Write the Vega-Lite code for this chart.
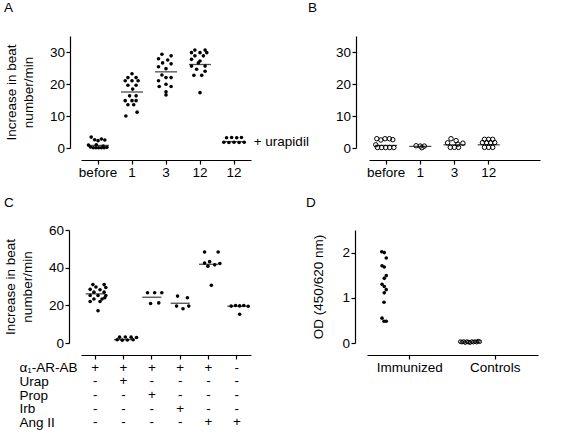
{
  "$schema": "https://vega.github.io/schema/vega-lite/v6.json",
  "padding": {"left": 3, "top": 0, "right": 5, "bottom": 5},
  "config": {
    "view": {"stroke": null},
    "font": "Liberation Sans",
    "axis": {"grid": false, "domainColor": "black", "tickColor": "black", "labelColor": "black", "titleColor": "black",
      "labelFontSize": 13.5, "titleFontSize": 13.5, "titleFontWeight": "normal", "tickSize": 4, "labelPadding": 1.5,
      "domainWidth": 1.2, "tickWidth": 1.2, "labelFont": "Liberation Sans", "titleFont": "Liberation Sans",
      "labelOverlap": false, "labelFlush": false},
    "axisX": {"labelAngle": 0, "offset": 12, "title": null},
    "axisY": {"offset": 11, "titleLineHeight": 17},
    "title": {"fontSize": 13.5, "fontWeight": "normal", "anchor": "start", "frame": "group", "font": "Liberation Sans", "color": "black", "baseline": "alphabetic"}
  },
  "datasets": {
    "a": [
      {"g":"before","j":-0.2,"v":3.4},{"g":"before","j":-0.1,"v":2.6},{"g":"before","j":0.0,"v":2.3},{"g":"before","j":0.1,"v":2.8},{"g":"before","j":0.2,"v":2.5},
      {"g":"before","j":-0.28,"v":0.9},{"g":"before","j":-0.22,"v":0.3},{"g":"before","j":-0.14,"v":0.1},{"g":"before","j":-0.06,"v":0.1},{"g":"before","j":0.02,"v":0.1},{"g":"before","j":0.1,"v":0.1},{"g":"before","j":0.18,"v":0.1},{"g":"before","j":0.26,"v":0.2},{"g":"before","j":-0.05,"v":1.0},{"g":"before","j":0.15,"v":0.6},
      {"g":"1","j":0.0,"v":23.2},{"g":"1","j":-0.12,"v":22.0},{"g":"1","j":0.12,"v":22.0},{"g":"1","j":-0.2,"v":21.0},{"g":"1","j":0.0,"v":21.0},{"g":"1","j":0.18,"v":21.0},{"g":"1","j":-0.12,"v":19.6},{"g":"1","j":0.12,"v":19.6},{"g":"1","j":0.02,"v":18.4},{"g":"1","j":-0.07,"v":16.3},{"g":"1","j":0.12,"v":16.3},{"g":"1","j":-0.2,"v":14.8},{"g":"1","j":0.0,"v":14.8},{"g":"1","j":0.12,"v":14.8},{"g":"1","j":-0.12,"v":13.5},{"g":"1","j":0.05,"v":13.5},{"g":"1","j":0.15,"v":11.2},{"g":"1","j":-0.18,"v":10.0},
      {"g":"3","j":-0.12,"v":29.3},{"g":"3","j":0.15,"v":28.8},{"g":"3","j":-0.22,"v":27.9},{"g":"3","j":0.05,"v":27.5},{"g":"3","j":-0.1,"v":26.6},{"g":"3","j":0.15,"v":26.3},{"g":"3","j":-0.22,"v":25.4},{"g":"3","j":0.0,"v":24.8},{"g":"3","j":-0.12,"v":22.8},{"g":"3","j":0.0,"v":22.0},{"g":"3","j":0.15,"v":22.0},{"g":"3","j":-0.22,"v":21.0},{"g":"3","j":0.0,"v":19.9},{"g":"3","j":-0.2,"v":19.2},{"g":"3","j":0.15,"v":19.2},{"g":"3","j":0.0,"v":17.6},{"g":"3","j":0.0,"v":16.6},
      {"g":"12","j":-0.15,"v":30.6},{"g":"12","j":0.15,"v":30.6},{"g":"12","j":-0.25,"v":29.8},{"g":"12","j":0.0,"v":29.8},{"g":"12","j":0.2,"v":29.8},{"g":"12","j":-0.15,"v":28.8},{"g":"12","j":0.1,"v":28.8},{"g":"12","j":-0.25,"v":27.7},{"g":"12","j":0.0,"v":27.2},{"g":"12","j":-0.05,"v":26.6},{"g":"12","j":0.15,"v":25.6},{"g":"12","j":-0.25,"v":25.6},{"g":"12","j":-0.1,"v":24.6},{"g":"12","j":0.15,"v":24.0},{"g":"12","j":-0.18,"v":22.7},{"g":"12","j":0.05,"v":22.7},{"g":"12","j":0.0,"v":17.3},
      {"g":"12u","j":-0.22,"v":3.2},{"g":"12u","j":-0.07,"v":3.3},{"g":"12u","j":0.08,"v":3.2},{"g":"12u","j":0.22,"v":3.3},{"g":"12u","j":-0.3,"v":1.8},{"g":"12u","j":-0.15,"v":1.7},{"g":"12u","j":0.0,"v":1.8},{"g":"12u","j":0.15,"v":1.7},{"g":"12u","j":0.3,"v":1.8}
    ],
    "a_med": [{"g":"before","v":0.8},{"g":"1","v":17.5},{"g":"3","v":23.8},{"g":"12","v":26.1},{"g":"12u","v":2.0}],
    "a_note": [{"g":"12u","j":0.58,"v":1.9,"label":"+ urapidil"}],
    "b": [
      {"g":"before","j":-0.27,"v":2.9},{"g":"before","j":-0.15,"v":2.5},{"g":"before","j":-0.03,"v":2.9},{"g":"before","j":0.1,"v":2.9},{"g":"before","j":0.2,"v":2.6},{"g":"before","j":-0.3,"v":1.0},
      {"g":"before","j":-0.25,"v":0.15},{"g":"before","j":-0.13,"v":0.15},{"g":"before","j":-0.01,"v":0.15},{"g":"before","j":0.11,"v":0.15},{"g":"before","j":0.23,"v":0.15},
      {"g":"1","j":-0.12,"v":0.7},{"g":"1","j":0.0,"v":0.6},{"g":"1","j":0.12,"v":0.6},{"g":"1","j":0.05,"v":0.1},
      {"g":"3","j":-0.1,"v":2.9},{"g":"3","j":0.05,"v":2.3},{"g":"3","j":-0.2,"v":1.6},{"g":"3","j":0.25,"v":1.5},{"g":"3","j":-0.12,"v":0.2},{"g":"3","j":0.0,"v":0.2},{"g":"3","j":0.12,"v":0.2},{"g":"3","j":0.1,"v":1.2},
      {"g":"12","j":-0.12,"v":2.7},{"g":"12","j":0.0,"v":2.7},{"g":"12","j":0.12,"v":2.7},{"g":"12","j":-0.18,"v":1.7},{"g":"12","j":-0.06,"v":1.7},{"g":"12","j":0.06,"v":1.7},{"g":"12","j":0.18,"v":1.7},{"g":"12","j":-0.12,"v":0.2},{"g":"12","j":0.0,"v":0.2},{"g":"12","j":0.12,"v":0.2}
    ],
    "b_med": [{"g":"before","v":0.8},{"g":"1","v":0.5},{"g":"3","v":1.0},{"g":"12","v":1.0}],
    "c": [
      {"g":"c1","j":-0.15,"v":31},{"g":"c1","j":0.18,"v":31},{"g":"c1","j":-0.06,"v":29.7},{"g":"c1","j":0.23,"v":29.5},{"g":"c1","j":-0.23,"v":28.5},{"g":"c1","j":0.06,"v":28.3},{"g":"c1","j":-0.12,"v":27},{"g":"c1","j":0.18,"v":27},{"g":"c1","j":-0.23,"v":25.2},{"g":"c1","j":0.0,"v":25.2},{"g":"c1","j":0.23,"v":25.2},{"g":"c1","j":0.2,"v":24},{"g":"c1","j":-0.12,"v":23.4},{"g":"c1","j":0.12,"v":23.4},{"g":"c1","j":-0.23,"v":22},{"g":"c1","j":0.06,"v":22},{"g":"c1","j":0.0,"v":17.1},
      {"g":"c2","j":-0.2,"v":3.1},{"g":"c2","j":-0.03,"v":3.2},{"g":"c2","j":0.14,"v":3.1},{"g":"c2","j":0.3,"v":2.9},{"g":"c2","j":-0.27,"v":1.7},{"g":"c2","j":-0.12,"v":1.5},{"g":"c2","j":0.03,"v":1.6},{"g":"c2","j":0.2,"v":1.7},
      {"g":"c3","j":-0.21,"v":26.7},{"g":"c3","j":0.0,"v":26.7},{"g":"c3","j":0.21,"v":26.7},{"g":"c3","j":-0.12,"v":21.0},{"g":"c3","j":0.12,"v":21.3},
      {"g":"c4","j":-0.16,"v":24.9},{"g":"c4","j":0.13,"v":24.0},{"g":"c4","j":-0.19,"v":19.6},{"g":"c4","j":0.17,"v":19.6},{"g":"c4","j":0.0,"v":18.2},
      {"g":"c5","j":-0.2,"v":48.3},{"g":"c5","j":0.2,"v":48.3},{"g":"c5","j":-0.2,"v":42.5},{"g":"c5","j":-0.05,"v":43.2},{"g":"c5","j":0.1,"v":41.5},{"g":"c5","j":0.25,"v":42.2},{"g":"c5","j":-0.1,"v":40.8},{"g":"c5","j":0.0,"v":30.6},
      {"g":"c6","j":-0.25,"v":19.6},{"g":"c6","j":-0.12,"v":19.9},{"g":"c6","j":0.0,"v":19.7},{"g":"c6","j":0.12,"v":19.9},{"g":"c6","j":0.25,"v":19.5},{"g":"c6","j":0.0,"v":15.3}
    ],
    "c_med": [{"g":"c1","v":26.1},{"g":"c2","v":1.8},{"g":"c3","v":24.3},{"g":"c4","v":21.1},{"g":"c5","v":41.8},{"g":"c6","v":19.5}],
    "t": [
      {"g":"c1","f":"α₁-AR-AB","s":"+"},{"g":"c2","f":"α₁-AR-AB","s":"+"},{"g":"c3","f":"α₁-AR-AB","s":"+"},{"g":"c4","f":"α₁-AR-AB","s":"+"},{"g":"c5","f":"α₁-AR-AB","s":"+"},{"g":"c6","f":"α₁-AR-AB","s":"-"},
      {"g":"c1","f":"Urap","s":"-"},{"g":"c2","f":"Urap","s":"+"},{"g":"c3","f":"Urap","s":"-"},{"g":"c4","f":"Urap","s":"-"},{"g":"c5","f":"Urap","s":"-"},{"g":"c6","f":"Urap","s":"-"},
      {"g":"c1","f":"Prop","s":"-"},{"g":"c2","f":"Prop","s":"-"},{"g":"c3","f":"Prop","s":"+"},{"g":"c4","f":"Prop","s":"-"},{"g":"c5","f":"Prop","s":"-"},{"g":"c6","f":"Prop","s":"-"},
      {"g":"c1","f":"Irb","s":"-"},{"g":"c2","f":"Irb","s":"-"},{"g":"c3","f":"Irb","s":"-"},{"g":"c4","f":"Irb","s":"+"},{"g":"c5","f":"Irb","s":"-"},{"g":"c6","f":"Irb","s":"-"},
      {"g":"c1","f":"Ang II","s":"-"},{"g":"c2","f":"Ang II","s":"-"},{"g":"c3","f":"Ang II","s":"-"},{"g":"c4","f":"Ang II","s":"-"},{"g":"c5","f":"Ang II","s":"+"},{"g":"c6","f":"Ang II","s":"+"}
    ],
    "d_imm": [
      {"g":"Immunized","j":-0.066,"v":2.02},{"g":"Immunized","j":0.008,"v":2.0},{"g":"Immunized","j":0.066,"v":1.88},{"g":"Immunized","j":-0.058,"v":1.71},{"g":"Immunized","j":0.008,"v":1.68},
      {"g":"Immunized","j":0.066,"v":1.49},{"g":"Immunized","j":0.008,"v":1.43},{"g":"Immunized","j":-0.058,"v":1.30},{"g":"Immunized","j":0.008,"v":1.25},{"g":"Immunized","j":0.066,"v":1.18},
      {"g":"Immunized","j":0.008,"v":1.11},{"g":"Immunized","j":0.0,"v":0.90},{"g":"Immunized","j":-0.058,"v":0.55},{"g":"Immunized","j":0.0,"v":0.48},{"g":"Immunized","j":0.066,"v":0.48}
    ],
    "d_ctl": [
      {"g":"Controls","j":-0.27,"v":0.03},{"g":"Controls","j":-0.222,"v":0.02},{"g":"Controls","j":-0.174,"v":0.03},{"g":"Controls","j":-0.126,"v":0.01},{"g":"Controls","j":-0.078,"v":0.03},
      {"g":"Controls","j":-0.03,"v":0.02},{"g":"Controls","j":0.018,"v":0.01},{"g":"Controls","j":0.066,"v":0.03},{"g":"Controls","j":0.114,"v":0.02},{"g":"Controls","j":0.162,"v":0.03},
      {"g":"Controls","j":0.21,"v":0.02},{"g":"Controls","j":0.258,"v":0.04},{"g":"Controls","j":0.3,"v":0.03}
    ]
  },
  "spacing": 16,
  "vconcat": [
    {
      "hconcat": [
        {
          "width": 170, "height": 112,
          "title": {"text": "A", "dx": -77, "offset": 22},
          "encoding": {
            "x": {"field": "g", "type": "nominal", "scale": {"domain": ["before","1","3","12","12u"], "paddingInner": 0, "paddingOuter": 0},
              "axis": {"labelExpr": "datum.label == '12u' ? '12' : datum.label"}},
            "y": {"field": "v", "type": "quantitative", "scale": {"domain": [0, 35]},
              "axis": {"values": [0,10,20,30], "title": ["Increase in beat", "number/min"], "titlePadding": 14}}
          },
          "layer": [
            {"data": {"name": "a"}, "mark": {"type": "circle", "size": 13, "color": "black", "opacity": 1},
             "encoding": {"xOffset": {"field": "j", "type": "quantitative", "scale": {"domain": [-0.5, 0.5]}}}},
            {"data": {"name": "a_med"}, "mark": {"type": "tick", "orient": "horizontal", "size": 22, "thickness": 1.3, "color": "black"}},
            {"data": {"name": "a_note"}, "mark": {"type": "text", "align": "left", "baseline": "middle", "fontSize": 13.5, "color": "black", "font": "Liberation Sans"},
             "encoding": {"xOffset": {"field": "j", "type": "quantitative", "scale": {"domain": [-0.5, 0.5]}}, "text": {"field": "label"}}}
          ]
        },
        {
          "width": 171, "height": 112,
          "title": {"text": "B", "dx": -61, "offset": 22},
          "encoding": {
            "x": {"field": "g", "type": "nominal", "scale": {"domain": ["before","1","3","12","none"], "paddingInner": 0, "paddingOuter": 0},
              "axis": {"values": ["before","1","3","12"]}},
            "y": {"field": "v", "type": "quantitative", "scale": {"domain": [0, 35]},
              "axis": {"values": [0,10,20,30], "title": null, "offset": 13}}
          },
          "layer": [
            {"data": {"name": "b"}, "mark": {"type": "point", "shape": "circle", "filled": false, "size": 20, "strokeWidth": 1, "color": "black", "opacity": 1},
             "encoding": {"xOffset": {"field": "j", "type": "quantitative", "scale": {"domain": [-0.5, 0.5]}}}},
            {"data": {"name": "b_med"}, "mark": {"type": "tick", "orient": "horizontal", "size": 22, "thickness": 1.3, "color": "black"}}
          ]
        }
      ],
      "spacing": 118,
      "bounds": "flush"
    },
    {
      "hconcat": [
        {
          "vconcat": [
            {
              "width": 170, "height": 113,
              "title": {"text": "C", "dx": -77, "offset": 13.75},
              "encoding": {
                "x": {"field": "g", "type": "nominal", "scale": {"domain": ["c1","c2","c3","c4","c5","c6"], "paddingInner": 0, "paddingOuter": 0},
                  "axis": {"labels": false}},
                "y": {"field": "v", "type": "quantitative", "scale": {"domain": [0, 60]},
                  "axis": {"values": [0,20,40,60], "title": ["Increase in beat", "number/min"], "titlePadding": 14, "offset": 12}}
              },
              "layer": [
                {"data": {"name": "c"}, "mark": {"type": "circle", "size": 13, "color": "black", "opacity": 1},
                 "encoding": {"xOffset": {"field": "j", "type": "quantitative", "scale": {"domain": [-0.5, 0.5]}}}},
                {"data": {"name": "c_med"}, "mark": {"type": "tick", "orient": "horizontal", "size": 19, "thickness": 1.3, "color": "black"}}
              ]
            },
            {
              "width": 170, "height": 68,
              "data": {"name": "t"},
              "mark": {"type": "text", "fontSize": 13.5, "color": "black", "font": "Liberation Sans", "baseline": "middle"},
              "encoding": {
                "x": {"field": "g", "type": "nominal", "scale": {"domain": ["c1","c2","c3","c4","c5","c6"], "paddingInner": 0, "paddingOuter": 0}, "axis": null},
                "y": {"field": "f", "type": "nominal", "scale": {"type": "point", "padding": 0.5, "domain": ["α₁-AR-AB","Urap","Prop","Irb","Ang II"]},
                  "axis": {"domain": false, "ticks": false, "tickSize": 0, "labelAlign": "left", "labelPadding": 62, "offset": 0, "title": null}},
                "text": {"field": "s"}
              }
            }
          ],
          "spacing": 18,
          "bounds": "flush"
        },
        {
          "width": 171, "height": 113,
          "title": {"text": "D", "dx": -61, "offset": 20.5},
          "encoding": {
            "x": {"field": "g", "type": "nominal", "scale": {"domain": ["Immunized","Controls"], "paddingInner": 0, "paddingOuter": 0}},
            "y": {"field": "v", "type": "quantitative", "scale": {"domain": [0, 2.5]},
              "axis": {"values": [0,1,2], "title": "OD (450/620 nm)", "titlePadding": 16, "offset": 12}}
          },
          "layer": [
            {"data": {"name": "d_imm"}, "mark": {"type": "circle", "size": 13, "color": "black", "opacity": 1},
             "encoding": {"xOffset": {"field": "j", "type": "quantitative", "scale": {"domain": [-0.5, 0.5]}}}},
            {"data": {"name": "d_ctl"}, "mark": {"type": "point", "shape": "circle", "filled": false, "size": 14, "strokeWidth": 1, "color": "black", "opacity": 1},
             "encoding": {"xOffset": {"field": "j", "type": "quantitative", "scale": {"domain": [-0.5, 0.5]}}}}
          ]
        }
      ],
      "spacing": 55
    }
  ]
}
